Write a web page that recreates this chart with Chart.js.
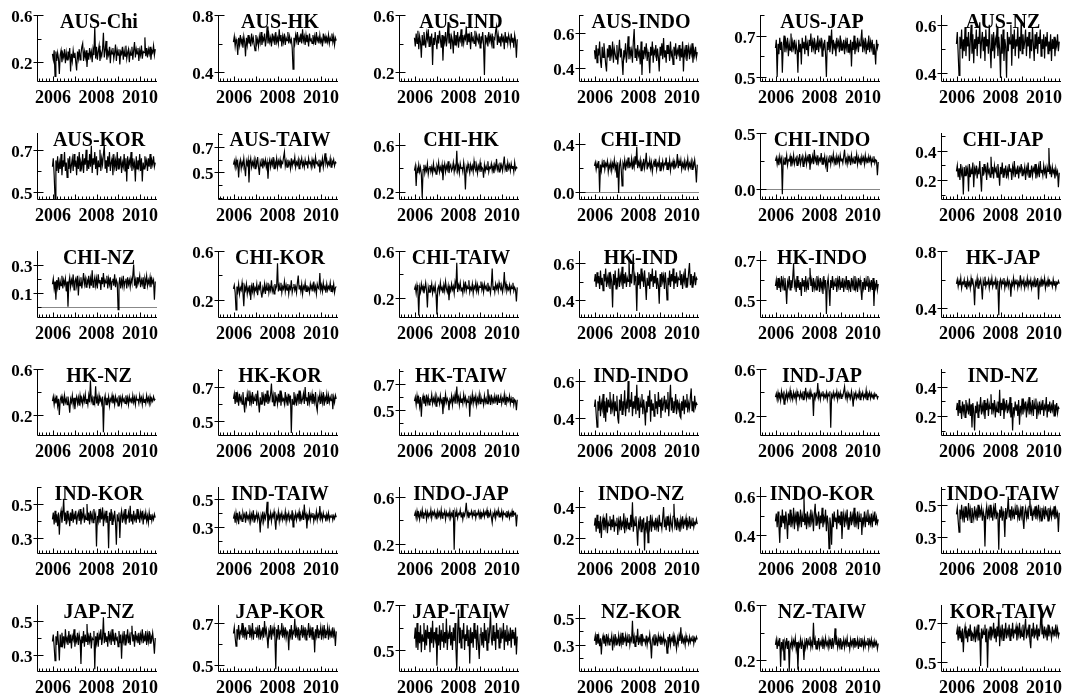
<!DOCTYPE html>
<html>
<head>
<meta charset="utf-8">
<script src="https://cdn.jsdelivr.net/npm/chart.js@4.4.1/dist/chart.umd.min.js"></script>
<style>
  html, body { margin: 0; padding: 0; background: #fff; }
  #grid { position: relative; width: 1067px; height: 698px; overflow: hidden; background: #fff; }
  #grid canvas { position: absolute; }
</style>
</head>
<body>
<div id="grid"></div>
<script>
// pair names, in reading order (6 per row)
const pairNames = [
  "AUS-Chi", "AUS-HK", "AUS-IND", "AUS-INDO", "AUS-JAP", "AUS-NZ",
  "AUS-KOR", "AUS-TAIW", "CHI-HK", "CHI-IND", "CHI-INDO", "CHI-JAP",
  "CHI-NZ", "CHI-KOR", "CHI-TAIW", "HK-IND", "HK-INDO", "HK-JAP",
  "HK-NZ", "HK-KOR", "HK-TAIW", "IND-INDO", "IND-JAP", "IND-NZ",
  "IND-KOR", "IND-TAIW", "INDO-JAP", "INDO-NZ", "INDO-KOR", "INDO-TAIW",
  "JAP-NZ", "JAP-KOR", "JAP-TAIW", "NZ-KOR", "NZ-TAIW", "KOR-TAIW"
];

// first / last observation (decimal years) and the year tick labels
const firstObs = 2005.97;
const lastObs = 2010.70;
const yearLabels = [2006, 2008, 2010];

// correlation series
const ausChi = [.27,.22,.30,.08,.29,.21,.28,.23,.10,.26, .30,.20,.27,.24,.31,.19,.28,.22,.29,.25, .32,.12,.27,.21,.30,.24,.28,.20,.13,.29, .23,.31,.22,.27,.33,.36,.21,.29,.24,.30, .16,.28,.22,.32,.25,.29,.20,.31,.26,.50, .23,.33,.22,.29,.34,.21,.28,.25,.31,.45, .24,.30,.38,.22,.29,.26,.33,.19,.30,.27, .32,.23,.28,.35,.21,.30,.26,.31,.18,.29, .27,.33,.22,.30,.25,.34,.23,.28,.31,.20, .29,.26,.33,.22,.30,.37,.24,.31,.27,.32, .21,.30,.26,.34,.23,.29,.28,.41,.25,.32, .24,.31,.27,.33,.22,.30,.28,.34,.26,.31];
const ausHk = [.61,.65,.58,.63,.60,.52,.64,.59,.66,.60, .63,.57,.65,.61,.51,.64,.59,.66,.60,.63, .58,.67,.61,.64,.59,.55,.66,.60,.63,.58, .65,.61,.68,.59,.64,.62,.67,.58,.63,.72, .60,.66,.61,.64,.58,.67,.62,.65,.59,.68, .61,.64,.60,.70,.62,.66,.58,.65,.61,.67, .59,.64,.62,.68,.60,.65,.61,.63,.57,.42, .64,.60,.66,.62,.68,.59,.64,.61,.67,.60, .70,.62,.65,.59,.66,.61,.64,.58,.67,.62, .63,.60,.66,.61,.65,.59,.68,.62,.64,.60, .66,.61,.63,.58,.67,.62,.65,.60,.64,.61, .66,.60,.64,.62,.67,.61,.65,.59,.64,.62];
const ausInd = [.44,.38,.47,.40,.49,.36,.45,.41,.30,.46, .39,.48,.42,.37,.47,.43,.50,.38,.45,.41, .47,.25,.44,.39,.48,.42,.36,.46,.40,.49, .43,.37,.46,.28,.45,.41,.48,.38,.44,.55, .40,.47,.36,.45,.42,.33,.49,.39,.46,.41, .48,.37,.44,.42,.50,.38,.46,.40,.45,.43, .52,.39,.47,.41,.45,.36,.48,.42,.44,.40, .49,.38,.46,.43,.41,.47,.37,.45,.42,.48, .39,.18,.46,.41,.44,.38,.48,.42,.45,.40, .47,.37,.44,.43,.49,.52,.39,.46,.41,.45, .38,.47,.42,.44,.36,.48,.41,.45,.40,.46, .43,.39,.47,.41,.44,.37,.46,.42,.30,.43];
const ausIndo = [.50,.45,.53,.43,.51,.47,.55,.44,.40,.52, .46,.54,.48,.42,.38,.51,.46,.53,.44,.50, .47,.55,.43,.51,.48,.45,.53,.42,.49,.56, .46,.51,.44,.36,.50,.47,.54,.43,.49,.58, .45,.52,.47,.50,.43,.55,.62,.46,.51,.44, .53,.47,.49,.42,.55,.36,.50,.45,.52,.48, .54,.44,.49,.46,.37,.52,.47,.55,.43,.50, .48,.53,.44,.51,.46,.38,.52,.47,.54,.45, .57,.46,.50,.43,.53,.48,.51,.44,.55,.47, .49,.42,.52,.47,.54,.45,.50,.48,.53,.44, .51,.46,.55,.38,.50,.47,.53,.44,.49,.52, .45,.51,.48,.54,.43,.50,.47,.52,.46,.49];
const ausJap = [.64,.68,.50,.66,.61,.69,.63,.67,.52,.65, .70,.62,.67,.64,.69,.60,.66,.63,.71,.62, .67,.64,.68,.61,.66,.63,.52,.68,.62,.66, .56,.69,.64,.67,.61,.70,.63,.66,.60,.68, .65,.71,.62,.67,.64,.69,.61,.66,.63,.70, .62,.67,.65,.69,.60,.66,.64,.68,.61,.50, .67,.63,.70,.62,.66,.73,.61,.68,.64,.66, .60,.69,.65,.67,.62,.70,.63,.66,.64,.68, .61,.67,.64,.69,.62,.66,.63,.68,.55,.67, .63,.70,.61,.66,.64,.69,.62,.67,.65,.68, .73,.62,.67,.64,.69,.61,.66,.63,.70,.62, .67,.64,.68,.61,.66,.63,.56,.68,.64,.66];
const ausNz = [.52,.57,.48,.39,.55,.50,.58,.46,.54,.49, .59,.47,.55,.51,.57,.45,.53,.60,.48,.56, .44,.54,.50,.58,.47,.55,.52,.61,.46,.53, .57,.49,.55,.45,.58,.51,.54,.48,.60,.50, .42,.56,.49,.57,.46,.54,.52,.59,.47,.55, .50,.38,.56,.48,.58,.45,.54,.51,.38,.57, .49,.55,.52,.60,.43,.56,.50,.58,.47,.54, .51,.59,.46,.55,.49,.62,.48,.56,.50,.53, .58,.47,.55,.51,.57,.46,.54,.49,.59,.52, .45,.56,.50,.57,.48,.55,.52,.58,.47,.54, .50,.56,.46,.55,.51,.57,.48,.53,.49,.56, .45,.54,.50,.55,.47,.53,.51,.56,.49,.53];
const ausKor = [.62,.66,.58,.47,.65,.60,.67,.59,.64,.61, .68,.58,.65,.62,.69,.60,.64,.57,.66,.61, .67,.59,.63,.66,.60,.68,.62,.65,.58,.67, .61,.69,.60,.64,.62,.68,.59,.66,.63,.70, .60,.65,.61,.68,.62,.72,.59,.66,.63,.69, .61,.67,.58,.65,.62,.70,.60,.66,.63,.68, .72,.61,.65,.59,.67,.62,.69,.60,.64,.66, .58,.68,.62,.65,.60,.69,.61,.66,.63,.67, .59,.64,.62,.68,.60,.66,.55,.67,.61,.65, .63,.69,.60,.66,.62,.64,.55,.67,.61,.65, .62,.68,.60,.66,.55,.64,.61,.67,.63,.65, .60,.66,.62,.68,.61,.65,.63,.67,.62,.64];
const ausTaiw = [.56,.59,.54,.60,.55,.58,.46,.57,.60,.53, .58,.55,.61,.54,.47,.59,.56,.60,.42,.57, .61,.54,.58,.55,.60,.53,.59,.56,.62,.54, .48,.58,.55,.61,.53,.59,.56,.60,.54,.58, .45,.57,.60,.54,.59,.56,.62,.53,.58,.55, .61,.54,.59,.56,.60,.53,.58,.57,.62,.66, .55,.59,.54,.60,.56,.58,.53,.61,.55,.59, .57,.62,.54,.58,.56,.60,.53,.59,.57,.61, .55,.58,.54,.60,.56,.59,.53,.61,.57,.58, .54,.60,.56,.59,.53,.62,.57,.58,.55,.60, .50,.58,.56,.61,.54,.59,.65,.57,.60,.55, .58,.56,.61,.54,.59,.57,.60,.55,.58,.57];
const chiHk = [.38,.42,.25,.40,.36,.43,.37,.41,.35,.15, .39,.43,.36,.41,.38,.44,.35,.40,.42,.37, .41,.36,.44,.38,.40,.35,.42,.39,.45,.37, .41,.38,.43,.30,.40,.44,.37,.42,.39,.46, .36,.41,.43,.38,.40,.45,.37,.42,.39,.55, .38,.42,.36,.44,.40,.41,.37,.45,.39,.22, .41,.38,.44,.40,.36,.43,.39,.42,.37,.46, .40,.38,.43,.36,.42,.39,.45,.37,.41,.40, .32,.43,.38,.42,.39,.46,.37,.41,.40,.44, .38,.42,.36,.43,.40,.48,.39,.42,.37,.45, .40,.43,.38,.44,.50,.39,.42,.37,.45,.40, .43,.38,.44,.40,.42,.37,.45,.39,.41,.40];
const chiInd = [.22,.25,.19,.24,.20,.26,.00,.23,.18,.25, .21,.27,.19,.24,.22,.26,.17,.23,.20,.25, .18,.24,.21,.27,.19,.23,.12,.25,-.01,.22, .26,.19,.05,.24,.21,.27,.18,.25,.22,.29, .20,.24,.22,.28,.19,.26,.21,.30,.23,.38, .20,.25,.22,.27,.18,.24,.21,.28,.20,.25, .33,.19,.24,.22,.27,.20,.25,.17,.23,.26, .21,.28,.19,.24,.22,.27,.18,.25,.21,.26, .20,.24,.23,.29,.19,.25,.21,.27,.18,.24, .22,.26,.19,.25,.21,.23,.32,.20,.26,.22, .27,.19,.24,.21,.26,.18,.25,.22,.28,.20, .24,.21,.26,.19,.25,.22,.27,.20,.08,.23];
const chiIndo = [.25,.28,.22,.27,.21,.29,.24,.27,-.05,.26, .22,.28,.24,.30,.21,.26,.25,.29,.20,.27, .23,.30,.22,.26,.28,.21,.27,.24,.31,.22, .26,.29,.20,.27,.24,.30,.22,.28,.25,.31, .17,.27,.24,.29,.22,.35,.25,.28,.21,.30, .23,.27,.25,.32,.22,.28,.24,.29,.21,.26, .15,.27,.24,.30,.22,.28,.25,.31,.23,.27, .21,.29,.24,.28,.22,.30,.25,.27,.23,.29, .35,.24,.27,.22,.29,.25,.28,.21,.30,.24, .27,.23,.29,.25,.31,.22,.28,.24,.27,.21, .29,.25,.28,.22,.30,.24,.27,.23,.29,.25, .28,.22,.27,.24,.29,.23,.26,.25,.12,.24];
const chiJap = [.26,.30,.22,.28,.20,.31,.24,.27,.10,.29, .23,.30,.25,.28,.12,.31,.22,.27,.24,.32, .15,.28,.25,.30,.21,.27,.24,.33,.22,.12, .29,.23,.31,.26,.28,.20,.32,.25,.27,.22, .36,.24,.29,.21,.30,.26,.28,.22,.31,.25, .16,.29,.24,.32,.22,.28,.25,.30,.21,.27, .23,.31,.26,.28,.20,.29,.25,.33,.22,.27, .24,.30,.21,.28,.26,.31,.23,.27,.25,.29, .20,.28,.25,.32,.22,.27,.24,.30,.23,.28, .26,.31,.21,.28,.24,.29,.22,.33,.25,.27, .23,.30,.25,.28,.21,.29,.26,.42,.24,.28, .22,.29,.25,.27,.21,.28,.24,.26,.15,.25];
const chiNz = [.16,.20,.13,.18,.05,.19,.14,.21,.12,.18, .15,.22,.13,.19,.16,.20,.11,.18,.00,.17, .21,.14,.19,.16,.23,.12,.18,.20,.15,.22, .08,.19,.15,.21,.13,.18,.24,.16,.20,.14, .19,.17,.22,.13,.20,.15,.26,.14,.18,.21, .15,.20,.13,.23,.17,.19,.12,.21,.16,.24, .14,.19,.17,.22,.13,.20,.16,.21,.12,.18, .20,.15,.23,.14,.19,.17,-.02,.16,.21,.13, .19,.15,.22,.14,.18,.20,.13,.21,.16,.19, .14,.20,.17,.22,.30,.15,.19,.13,.21,.16, .18,.22,.14,.19,.16,.21,.13,.20,.17,.22, .15,.19,.16,.21,.14,.20,.17,.19,.05,.18];
const chiKor = [.29,.32,.26,.12,.31,.27,.33,.25,.30,.28, .34,.26,.15,.31,.28,.33,.25,.30,.27,.32, .20,.31,.27,.34,.25,.30,.28,.33,.24,.31, .29,.35,.26,.22,.30,.27,.33,.25,.32,.28, .34,.26,.31,.28,.36,.27,.30,.25,.33,.29, .31,.50,.27,.32,.28,.34,.26,.31,.29,.35, .27,.32,.28,.33,.25,.31,.29,.36,.26,.30, .33,.28,.31,.26,.34,.40,.29,.32,.27,.33, .25,.31,.29,.34,.27,.32,.28,.30,.26,.33, .29,.32,.27,.35,.28,.31,.25,.33,.30,.29, .42,.28,.32,.27,.34,.29,.31,.26,.33,.28, .31,.29,.34,.27,.32,.28,.33,.26,.30,.31];
const chiTaiw = [.27,.30,.24,.31,.26,.05,.29,.25,.32,.27, .30,.24,.28,.33,.26,.12,.29,.25,.31,.27, .32,.24,.29,.26,.31,.23,.06,.28,.30,.25, .33,.27,.29,.24,.31,.26,.34,.28,.25,.30, .18,.29,.26,.32,.27,.30,.24,.33,.28,.50, .25,.31,.28,.33,.26,.29,.24,.32,.27,.34, .26,.30,.28,.35,.25,.29,.27,.32,.24,.30, .28,.33,.26,.31,.25,.30,.29,.34,.27,.31, .25,.32,.28,.30,.26,.33,.27,.29,.24,.31, .45,.27,.30,.25,.32,.28,.31,.26,.33,.29, .27,.31,.25,.30,.42,.28,.32,.26,.29,.27, .31,.25,.30,.28,.33,.26,.29,.27,.17,.29];
const hkInd = [.50,.54,.47,.55,.49,.53,.46,.56,.48,.52, .45,.54,.50,.57,.47,.52,.49,.55,.46,.53, .50,.36,.54,.48,.56,.46,.52,.49,.57,.47, .53,.50,.58,.46,.54,.49,.55,.47,.52,.50, .62,.47,.54,.49,.56,.65,.48,.53,.50,.34, .55,.48,.54,.46,.57,.50,.53,.47,.56,.49, .40,.52,.48,.55,.46,.54,.50,.57,.47,.53, .49,.56,.46,.52,.48,.38,.54,.47,.55,.50, .53,.46,.55,.49,.40,.52,.48,.56,.47,.54, .50,.57,.46,.53,.49,.55,.47,.52,.51,.56, .48,.54,.46,.53,.50,.57,.47,.52,.49,.55, .60,.48,.54,.47,.53,.50,.55,.48,.52,.51];
const hkIndo = [.57,.60,.55,.61,.56,.59,.54,.62,.57,.60, .55,.61,.56,.48,.59,.57,.62,.55,.60,.56, .61,.68,.57,.59,.54,.62,.56,.60,.55,.59, .52,.61,.57,.60,.54,.62,.56,.59,.55,.61, .66,.57,.60,.54,.61,.56,.59,.55,.62,.57, .60,.54,.61,.56,.59,.53,.62,.57,.60,.43, .58,.61,.55,.47,.60,.56,.62,.55,.59,.57, .61,.54,.60,.57,.62,.55,.59,.56,.61,.54, .59,.57,.62,.55,.60,.56,.58,.54,.61,.57, .60,.55,.62,.56,.59,.54,.61,.57,.60,.55, .50,.59,.56,.61,.55,.60,.57,.62,.54,.59, .56,.60,.55,.61,.47,.58,.56,.60,.55,.58];
const hkJap = [.57,.60,.55,.59,.56,.61,.54,.58,.57,.60, .55,.59,.53,.60,.56,.58,.54,.61,.57,.59, .55,.42,.58,.56,.61,.54,.59,.57,.60,.55, .46,.59,.56,.62,.55,.58,.57,.60,.54,.59, .56,.61,.55,.58,.57,.60,.53,.59,.56,.35, .58,.60,.55,.59,.57,.61,.54,.58,.56,.60, .55,.59,.57,.48,.58,.56,.61,.55,.59,.57, .60,.54,.58,.56,.63,.55,.59,.57,.60,.54, .58,.56,.61,.55,.59,.57,.60,.54,.58,.56, .60,.55,.59,.57,.61,.46,.58,.56,.60,.55, .59,.57,.61,.54,.58,.56,.60,.55,.59,.57, .58,.55,.60,.56,.59,.54,.58,.57,.59,.57];
const hkNz = [.32,.36,.29,.35,.30,.37,.28,.34,.20,.33, .36,.30,.35,.28,.37,.31,.34,.29,.36,.30, .22,.34,.31,.37,.29,.35,.25,.33,.36,.30, .35,.28,.37,.31,.34,.29,.36,.32,.38,.30, .34,.29,.37,.31,.50,.32,.35,.29,.36,.31, .45,.30,.35,.28,.37,.32,.34,.30,.36,.05, .33,.37,.29,.35,.31,.36,.28,.34,.32,.37, .30,.35,.29,.36,.32,.34,.28,.37,.31,.35, .29,.36,.32,.34,.30,.37,.31,.35,.29,.36, .32,.34,.30,.37,.31,.35,.29,.36,.33,.34, .30,.37,.32,.35,.29,.36,.31,.34,.30,.37, .32,.35,.30,.36,.31,.34,.32,.36,.33,.34];
const hkKor = [.63,.66,.60,.67,.61,.65,.59,.66,.62,.64, .60,.67,.61,.55,.64,.60,.66,.62,.68,.59, .65,.61,.67,.60,.64,.62,.66,.59,.68,.61, .55,.64,.60,.67,.62,.65,.59,.66,.61,.68, .60,.64,.62,.66,.72,.61,.65,.59,.67,.62, .64,.60,.66,.61,.68,.59,.65,.62,.63,.60, .67,.61,.64,.59,.66,.62,.65,.43,.63,.60, .67,.61,.64,.59,.66,.62,.68,.60,.65,.61, .63,.66,.60,.70,.62,.64,.59,.67,.61,.65, .62,.66,.60,.64,.61,.67,.59,.56,.64,.62, .66,.60,.65,.61,.67,.59,.64,.62,.66,.60, .65,.61,.64,.62,.66,.57,.64,.61,.65,.63];
const hkTaiw = [.57,.60,.54,.61,.55,.59,.53,.60,.45,.58, .61,.55,.59,.53,.62,.56,.60,.54,.58,.57, .62,.55,.59,.56,.61,.53,.60,.57,.59,.55, .61,.56,.58,.47,.60,.55,.62,.56,.59,.57, .50,.58,.56,.61,.54,.60,.57,.62,.55,.68, .57,.60,.54,.61,.56,.59,.55,.62,.57,.60, .54,.58,.56,.61,.45,.59,.56,.62,.55,.60, .57,.61,.54,.59,.56,.62,.55,.60,.57,.58, .54,.61,.56,.59,.55,.66,.57,.60,.54,.62, .56,.59,.55,.61,.57,.60,.54,.62,.56,.58, .61,.55,.59,.57,.62,.54,.60,.56,.59,.57, .61,.55,.59,.56,.60,.54,.58,.57,.50,.58];
const indIndo = [.46,.50,.42,.35,.49,.44,.52,.41,.48,.45, .53,.40,.49,.38,.51,.43,.50,.46,.54,.42, .48,.45,.53,.41,.49,.44,.52,.40,.37,.50, .44,.53,.42,.49,.46,.55,.41,.48,.45,.60, .43,.50,.46,.54,.41,.49,.45,.52,.42,.58, .44,.51,.40,.49,.46,.53,.42,.50,.45,.36, .49,.43,.52,.46,.55,.38,.50,.44,.48,.41, .53,.45,.49,.42,.54,.46,.50,.40,.51,.44, .48,.52,.43,.50,.45,.54,.41,.49,.58,.44, .51,.43,.49,.46,.53,.42,.50,.45,.48,.41, .40,.49,.44,.52,.42,.50,.46,.53,.43,.48, .45,.51,.56,.44,.49,.43,.52,.46,.48,.47];
const indJap = [.36,.39,.34,.40,.35,.38,.33,.41,.36,.39, .30,.38,.35,.40,.34,.39,.36,.42,.35,.38, .34,.40,.36,.39,.33,.41,.37,.38,.35,.40, .36,.39,.34,.41,.37,.44,.35,.39,.36,.40, .34,.41,.37,.38,.20,.40,.35,.39,.37,.48, .36,.40,.34,.39,.37,.41,.35,.38,.36,.40, .34,.39,.37,.41,.10,.38,.36,.40,.35,.39, .37,.41,.34,.39,.36,.40,.35,.38,.37,.41, .45,.36,.39,.34,.40,.37,.38,.35,.41,.36, .28,.39,.37,.40,.35,.38,.36,.41,.34,.39, .37,.40,.35,.38,.36,.42,.34,.39,.37,.40, .35,.39,.36,.38,.34,.39,.37,.38,.35,.37];
const indNz = [.24,.29,.20,.31,.22,.27,.18,.30,.23,.28, .19,.31,.24,.27,.21,.32,.20,.28,.12,.29, .23,.10,.27,.22,.30,.19,.28,.25,.33,.21, .27,.23,.31,.18,.29,.24,.32,.20,.28,.25, .35,.21,.29,.24,.31,.19,.27,.23,.30,.22, .38,.20,.29,.24,.32,.18,.28,.25,.31,.22, .27,.24,.33,.19,.29,.10,.26,.22,.30,.24, .28,.20,.31,.14,.27,.23,.32,.21,.29,.25, .30,.19,.28,.24,.33,.21,.27,.23,.31,.20, .29,.25,.32,.18,.27,.23,.30,.21,.28,.24, .31,.20,.27,.25,.33,.19,.28,.23,.30,.22, .27,.24,.31,.20,.28,.23,.29,.22,.26,.25];
const indKor = [.41,.45,.38,.46,.39,.44,.37,.45,.32,.43, .46,.39,.44,.53,.40,.45,.38,.46,.41,.43, .37,.45,.40,.47,.39,.44,.41,.46,.38,.43, .45,.40,.47,.38,.44,.42,.48,.39,.43,.41, .50,.40,.45,.38,.46,.41,.44,.39,.47,.42, .44,.25,.43,.40,.47,.39,.45,.41,.48,.37, .44,.41,.46,.39,.43,.24,.45,.40,.47,.38, .43,.41,.46,.39,.26,.44,.40,.45,.30,.43, .46,.39,.44,.41,.47,.38,.43,.42,.45,.39, .49,.40,.44,.38,.46,.41,.43,.39,.47,.41, .44,.39,.45,.42,.46,.38,.44,.41,.45,.40, .43,.39,.45,.41,.44,.40,.43,.41,.44,.42];
const indTaiw = [.36,.39,.33,.40,.35,.38,.32,.41,.36,.38, .34,.40,.37,.39,.33,.41,.36,.38,.35,.40, .34,.39,.36,.42,.33,.38,.37,.40,.35,.39, .36,.26,.38,.35,.41,.34,.39,.36,.40,.48, .29,.38,.36,.40,.34,.39,.37,.41,.35,.28, .38,.36,.41,.34,.39,.37,.40,.35,.38,.36, .41,.34,.39,.37,.40,.35,.38,.36,.42,.30, .38,.36,.40,.35,.39,.37,.41,.34,.38,.36, .40,.35,.46,.37,.39,.29,.38,.36,.41,.35, .39,.37,.40,.34,.38,.36,.41,.35,.39,.37, .45,.36,.39,.35,.40,.37,.38,.34,.39,.36, .40,.35,.38,.37,.39,.35,.38,.36,.39,.37];
const indoJap = [.44,.47,.42,.48,.43,.46,.41,.47,.44,.49, .42,.46,.45,.48,.41,.47,.43,.46,.44,.49, .42,.47,.45,.48,.43,.46,.41,.48,.44,.47, .43,.49,.42,.46,.45,.48,.41,.47,.44,.46, .43,.48,.42,.46,.44,.49,.15,.47,.43,.48, .42,.46,.45,.49,.43,.47,.41,.46,.44,.48, .55,.44,.47,.42,.46,.45,.48,.43,.47,.44, .49,.42,.46,.45,.48,.43,.47,.41,.46,.44, .48,.43,.47,.45,.49,.42,.46,.44,.48,.43, .38,.46,.44,.48,.42,.47,.45,.49,.43,.46, .44,.48,.42,.47,.45,.46,.43,.48,.44,.47, .42,.46,.44,.48,.43,.47,.45,.46,.35,.45];
const indoNz = [.28,.33,.24,.35,.26,.31,.23,.34,.20,.30, .33,.25,.31,.27,.36,.23,.30,.28,.34,.25, .32,.27,.35,.24,.30,.28,.33,.22,.31,.27, .34,.25,.30,.28,.36,.23,.31,.27,.33,.26, .30,.25,.35,.27,.43,.24,.31,.28,.34,.26, .15,.30,.27,.34,.24,.32,.28,.33,.12,.30, .26,.34,.17,.31,.27,.35,.24,.32,.28,.30, .25,.33,.27,.31,.24,.35,.28,.30,.26,.33, .40,.27,.31,.25,.34,.28,.32,.24,.33,.29, .26,.34,.42,.28,.31,.25,.33,.27,.30,.24, .32,.28,.34,.26,.31,.29,.33,.25,.30,.28, .34,.26,.31,.28,.33,.27,.30,.29,.32,.29];
const indoKor = [.47,.51,.44,.52,.45,.36,.50,.44,.53,.46, .50,.43,.52,.47,.38,.51,.45,.53,.44,.49, .46,.54,.43,.50,.47,.52,.42,.49,.46,.53, .44,.50,.47,.60,.45,.51,.43,.52,.46,.49, .44,.53,.47,.50,.42,.51,.56,.45,.49,.47, .52,.43,.50,.46,.54,.44,.49,.47,.53,.42, .50,.46,.33,.49,.45,.35,.51,.44,.52,.47, .49,.43,.53,.46,.50,.45,.52,.38,.48,.51, .44,.50,.47,.53,.43,.49,.46,.52,.45,.50, .47,.54,.44,.49,.46,.52,.43,.50,.47,.51, .40,.49,.46,.52,.44,.50,.47,.53,.45,.49, .46,.51,.44,.50,.47,.52,.45,.49,.46,.48];
const indoTaiw = [.44,.48,.40,.33,.47,.41,.50,.42,.46,.39, .49,.42,.46,.40,.51,.43,.47,.39,.48,.44, .41,.49,.43,.46,.40,.50,.42,.47,.44,.48, .40,.46,.43,.24,.45,.49,.41,.47,.43,.50, .42,.46,.40,.48,.44,.51,.41,.45,.43,.22, .47,.42,.49,.40,.46,.43,.30,.48,.41,.46, .55,.42,.47,.40,.49,.43,.46,.41,.48,.44, .50,.42,.46,.40,.47,.43,.49,.41,.35,.45, .48,.42,.46,.41,.49,.53,.43,.47,.40,.46, .44,.49,.41,.47,.43,.50,.42,.46,.40,.48, .43,.47,.41,.49,.44,.46,.40,.48,.43,.47, .42,.46,.44,.49,.41,.47,.43,.45,.33,.45];
const japNz = [.38,.42,.35,.27,.41,.36,.44,.37,.27,.42, .35,.43,.37,.41,.34,.45,.38,.40,.36,.44, .37,.42,.34,.41,.39,.45,.35,.40,.38,.43, .36,.42,.39,.25,.41,.37,.44,.35,.42,.38, .48,.36,.41,.38,.43,.34,.40,.39,.44,.22, .41,.37,.43,.35,.42,.39,.45,.36,.40,.52, .37,.43,.38,.41,.35,.44,.39,.42,.36,.45, .38,.41,.36,.43,.39,.40,.35,.44,.37,.42, .28,.41,.38,.44,.36,.42,.39,.45,.37,.41, .36,.43,.47,.38,.42,.35,.44,.39,.41,.37, .43,.36,.42,.39,.45,.37,.41,.38,.44,.36, .42,.38,.44,.37,.41,.39,.43,.38,.31,.40];
const japKor = [.65,.68,.63,.59,.67,.64,.69,.62,.66,.65, .70,.63,.67,.64,.68,.62,.66,.65,.69,.63, .67,.64,.70,.62,.66,.65,.68,.63,.67,.64, .69,.62,.66,.64,.68,.63,.71,.65,.67,.63, .58,.66,.64,.69,.62,.67,.65,.68,.63,.48, .67,.64,.69,.62,.66,.65,.70,.63,.67,.64, .68,.63,.66,.65,.57,.67,.64,.69,.62,.66, .65,.72,.63,.67,.64,.68,.62,.66,.65,.69, .63,.67,.64,.68,.62,.66,.65,.70,.63,.67, .64,.68,.62,.66,.56,.67,.64,.69,.63,.66, .65,.68,.62,.67,.64,.69,.63,.66,.65,.68, .62,.67,.64,.66,.63,.68,.64,.66,.59,.66];
const japTaiw = [.55,.60,.51,.62,.50,.58,.53,.61,.49,.57, .54,.62,.50,.59,.52,.61,.55,.58,.49,.60, .53,.63,.51,.58,.55,.60,.43,.57,.52,.61, .50,.59,.54,.62,.51,.58,.53,.64,.50,.57, .55,.61,.52,.58,.50,.60,.54,.62,.51,.41, .58,.68,.53,.60,.51,.59,.55,.62,.50,.57, .54,.61,.52,.59,.44,.60,.53,.58,.51,.62, .55,.59,.50,.61,.53,.46,.57,.60,.52,.58, .51,.62,.54,.59,.50,.60,.53,.58,.67,.55, .52,.61,.54,.58,.50,.62,.55,.59,.51,.60, .53,.58,.55,.62,.50,.59,.54,.61,.52,.57, .54,.60,.51,.59,.55,.58,.52,.60,.48,.56];
const nzKor = [.33,.37,.30,.38,.31,.36,.29,.35,.23,.34, .37,.31,.35,.29,.38,.32,.36,.30,.34,.33, .37,.26,.35,.31,.38,.30,.34,.32,.37,.29, .36,.31,.39,.30,.35,.33,.37,.29,.36,.32, .38,.30,.35,.33,.48,.31,.36,.29,.37,.32, .42,.30,.35,.32,.38,.29,.36,.33,.34,.31, .37,.30,.35,.33,.38,.31,.20,.34,.36,.30, .38,.32,.35,.29,.37,.33,.36,.30,.35,.32, .37,.31,.34,.33,.24,.36,.31,.38,.30,.35, .33,.37,.29,.36,.32,.27,.35,.31,.37,.33, .43,.31,.36,.32,.35,.30,.37,.33,.34,.31, .36,.32,.35,.33,.37,.31,.35,.33,.36,.34];
const nzTaiw = [.31,.35,.28,.34,.30,.36,.15,.33,.29,.35, .20,.33,.30,.36,.28,.34,.12,.32,.30,.35, .29,.34,.31,.36,.28,.33,.13,.32,.30,.35, .28,.34,.31,.20,.33,.29,.36,.30,.34,.31, .37,.29,.33,.30,.47,.31,.35,.28,.34,.30, .36,.29,.33,.31,.35,.28,.34,.30,.36,.31, .33,.29,.35,.31,.34,.28,.36,.30,.33,.43, .31,.35,.29,.34,.30,.36,.28,.33,.31,.35, .29,.34,.31,.36,.30,.33,.28,.35,.31,.34, .30,.36,.29,.33,.31,.35,.28,.34,.30,.36, .31,.34,.29,.35,.30,.33,.31,.36,.29,.34, .31,.35,.30,.33,.29,.34,.31,.33,.28,.32];
const korTaiw = [.64,.67,.61,.68,.62,.66,.60,.67,.55,.65, .68,.62,.66,.60,.67,.63,.69,.61,.65,.64, .62,.68,.60,.66,.63,.69,.61,.65,.48,.67, .62,.66,.64,.69,.60,.67,.47,.65,.63,.68, .61,.66,.64,.70,.62,.67,.60,.68,.63,.75, .58,.66,.63,.69,.61,.67,.64,.70,.62,.66, .64,.69,.61,.67,.63,.70,.62,.66,.65,.68, .61,.67,.64,.70,.62,.66,.63,.69,.61,.67, .72,.62,.66,.64,.69,.61,.57,.67,.63,.70, .62,.66,.64,.69,.61,.67,.63,.68,.76,.64, .67,.62,.68,.64,.66,.61,.69,.63,.67,.65, .62,.68,.64,.66,.63,.69,.64,.67,.63,.65];

const allSeries = [
  ausChi, ausHk, ausInd, ausIndo, ausJap, ausNz,
  ausKor, ausTaiw, chiHk, chiInd, chiIndo, chiJap,
  chiNz, chiKor, chiTaiw, hkInd, hkIndo, hkJap,
  hkNz, hkKor, hkTaiw, indIndo, indJap, indNz,
  indKor, indTaiw, indoJap, indoNz, indoKor, indoTaiw,
  japNz, japKor, japTaiw, nzKor, nzTaiw, korTaiw
];

// labelled y ticks of each panel (a minor tick sits halfway between)
const yTickLabels = [
  [0.2, 0.6], [0.4, 0.8], [0.2, 0.6], [0.4, 0.6], [0.5, 0.7], [0.4, 0.6],
  [0.5, 0.7], [0.5, 0.7], [0.2, 0.6], [0.0, 0.4], [0.0, 0.5], [0.2, 0.4],
  [0.1, 0.3], [0.2, 0.6], [0.2, 0.6], [0.4, 0.6], [0.5, 0.7], [0.4, 0.8],
  [0.2, 0.6], [0.5, 0.7], [0.5, 0.7], [0.4, 0.6], [0.2, 0.6], [0.2, 0.4],
  [0.3, 0.5], [0.3, 0.5], [0.2, 0.6], [0.2, 0.4], [0.4, 0.6], [0.3, 0.5],
  [0.3, 0.5], [0.5, 0.7], [0.5, 0.7], [0.3, 0.5], [0.2, 0.6], [0.5, 0.7]
];

// y axis limits of each panel
const yLimits = [
  [0.04, 0.60], [0.337, 0.80], [0.137, 0.60], [0.326, 0.70], [0.48, 0.80], [0.367, 0.64],
  [0.467, 0.78], [0.29, 0.81], [0.14, 0.70], [-0.06, 0.497], [-0.093, 0.50], [0.069, 0.524],
  [-0.072, 0.396], [0.061, 0.60], [0.038, 0.60], [0.308, 0.665], [0.415, 0.745], [0.337, 0.80],
  [0.026, 0.60], [0.418, 0.806], [0.31, 0.815], [0.308, 0.665], [0.038, 0.60], [0.069, 0.524],
  [0.212, 0.60], [0.114, 0.586], [0.123, 0.685], [0.103, 0.529], [0.308, 0.646], [0.20, 0.61],
  [0.21, 0.59], [0.471, 0.786], [0.407, 0.70], [0.107, 0.596], [0.12, 0.60], [0.454, 0.79]
];

const X_MIN = 2005.26, X_MAX = 2010.78;
const COL_W = 180.8, ROW_H = 118;
const PAD = { left: 37, right: 21, top: 15, bottom: 37 };
const SERIF = '"Liberation Serif", "Times New Roman", serif';

// axes, ticks and pair name drawn by hand (EViews style: inward ticks)
const panelFrame = {
  id: "panelFrame",
  beforeDatasetsDraw(chart, args, opts) {
    const { ctx, chartArea: a } = chart;
    ctx.save();
    ctx.fillStyle = "#000";
    ctx.font = "bold 20px " + SERIF;
    ctx.textAlign = "center";
    ctx.textBaseline = "alphabetic";
    ctx.fillText(opts.title, (a.left + a.right) / 2 + 2, a.top + 13);
    const y = chart.scales.y;
    if (y.min < 0 && y.max > 0) {
      const zy = Math.round(y.getPixelForValue(0)) + 0.5;
      ctx.strokeStyle = "#888";
      ctx.lineWidth = 1;
      ctx.beginPath();
      ctx.moveTo(a.left, zy);
      ctx.lineTo(a.right, zy);
      ctx.stroke();
    }
    ctx.restore();
  },
  afterDatasetsDraw(chart, args, opts) {
    const { ctx, chartArea: a } = chart;
    const xs = chart.scales.x, ys = chart.scales.y;
    const L = Math.round(a.left) + 0.5, B = Math.round(a.bottom) + 0.5;
    ctx.save();
    ctx.strokeStyle = "#000";
    ctx.fillStyle = "#000";
    ctx.lineWidth = 1;
    ctx.beginPath();
    ctx.moveTo(L, Math.round(a.top));
    ctx.lineTo(L, B);
    ctx.lineTo(Math.round(a.right), B);
    ctx.stroke();

    // y ticks
    const labels = opts.ticks;
    const half = (labels[1] - labels[0]) / 2;
    ctx.font = "bold 17px " + SERIF;
    ctx.textAlign = "right";
    ctx.beginPath();
    for (let k = -8; k <= 8; k++) {
      const v = labels[0] + k * half;
      if (v < ys.min - 1e-9 || v > ys.max + 1e-9) continue;
      const py = Math.round(ys.getPixelForValue(v)) + 0.5;
      const isLabel = labels.some(l => Math.abs(l - v) < 1e-9);
      if (isLabel) {
        ctx.moveTo(L - 4, py);
        ctx.lineTo(L + 6, py);
        ctx.fillText(v.toFixed(1), L - 5, py + 6);
      } else {
        ctx.moveTo(L, py);
        ctx.lineTo(L + 4, py);
      }
    }
    ctx.stroke();

    // x ticks every two months, a longer one at each year start
    ctx.beginPath();
    for (let m = Math.ceil(xs.min * 6); m <= xs.max * 6; m++) {
      const px = Math.round(xs.getPixelForValue(m / 6)) + 0.5;
      const len = (m % 6 === 0) ? 5 : 3;
      ctx.moveTo(px, B);
      ctx.lineTo(px, B - len);
    }
    ctx.stroke();
    ctx.font = "bold 18px " + SERIF;
    ctx.textAlign = "center";
    yearLabels.forEach(yr => {
      ctx.fillText(String(yr), xs.getPixelForValue(yr), B + 21);
    });
    ctx.restore();
  }
};

const grid = document.getElementById("grid");
allSeries.forEach((values, i) => {
  const r = Math.floor(i / 6), c = i % 6;
  const canvas = document.createElement("canvas");
  canvas.width = 178;
  canvas.height = ROW_H;
  canvas.style.left = Math.round(c * COL_W) + "px";
  canvas.style.top = (r * ROW_H) + "px";
  canvas.style.width = "178px";
  canvas.style.height = ROW_H + "px";
  grid.appendChild(canvas);

  const step = (lastObs - firstObs) / (values.length - 1);
  const points = values.map((v, j) => ({ x: firstObs + j * step, y: v }));

  new Chart(canvas, {
    type: "line",
    data: {
      datasets: [{
        data: points,
        borderColor: "#000",
        borderWidth: 1.2,
        pointRadius: 0,
        tension: 0,
        fill: false
      }]
    },
    options: {
      responsive: false,
      animation: false,
      devicePixelRatio: 1,
      events: [],
      layout: { padding: PAD },
      scales: {
        x: { type: "linear", min: X_MIN, max: X_MAX, display: false },
        y: { type: "linear", min: yLimits[i][0], max: yLimits[i][1], display: false }
      },
      plugins: {
        legend: { display: false },
        tooltip: { enabled: false },
        panelFrame: { title: pairNames[i], ticks: yTickLabels[i] }
      }
    },
    plugins: [panelFrame]
  });
});
</script>
</body>
</html>
